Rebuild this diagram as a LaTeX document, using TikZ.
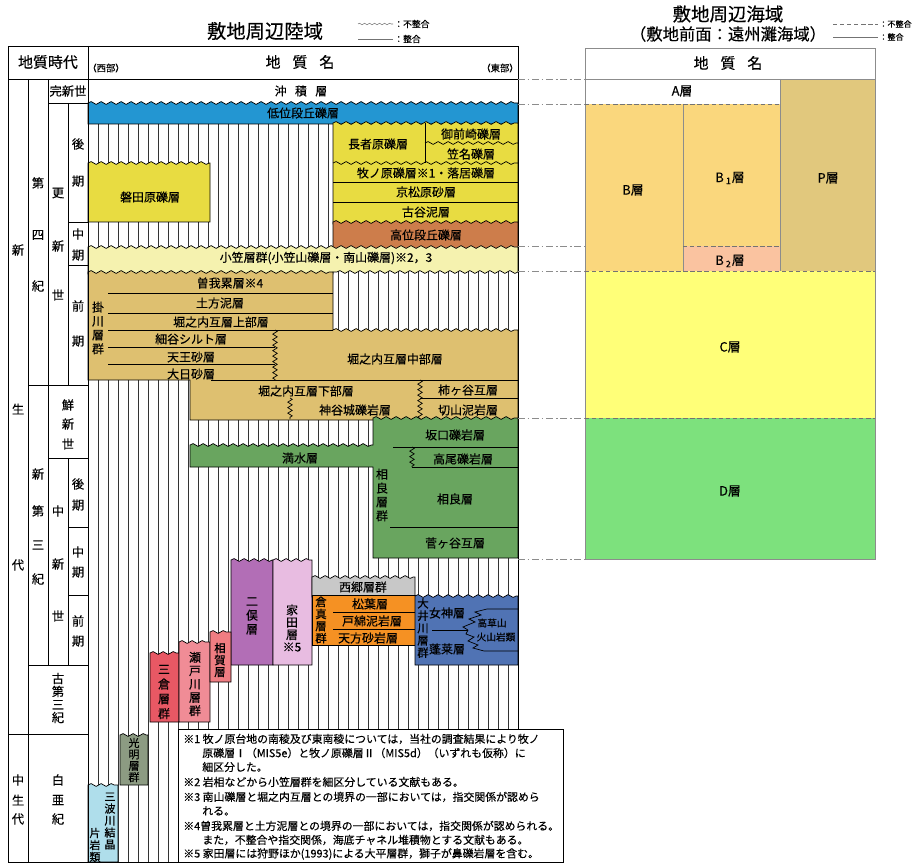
\documentclass[tikz,border=0pt]{standalone}
\usepackage{fontspec}
\setmainfont{Noto Sans CJK JP}[FakeBold=0.35]
\usetikzlibrary{decorations.pathmorphing}
\definecolor{teiiblue}{RGB}{35,150,210}
\definecolor{gravelyel}{RGB}{232,220,65}
\definecolor{kouibrown}{RGB}{205,125,75}
\definecolor{ogasayel}{RGB}{245,242,175}
\definecolor{kakegawatan}{RGB}{222,192,112}
\definecolor{sagaragreen}{RGB}{105,165,95}
\definecolor{futamatapur}{RGB}{178,110,182}
\definecolor{iedapink}{RGB}{232,188,225}
\definecolor{saigogray}{RGB}{200,200,200}
\definecolor{kuramiorange}{RGB}{245,145,35}
\definecolor{ooigawablue}{RGB}{80,115,180}
\definecolor{mikurared}{RGB}{232,88,100}
\definecolor{setogawapink}{RGB}{240,140,150}
\definecolor{aigared}{RGB}{240,125,130}
\definecolor{koumyougray}{RGB}{140,155,130}
\definecolor{sanbacyan}{RGB}{175,222,235}
\definecolor{seaB}{RGB}{250,215,125}
\definecolor{seaBtwo}{RGB}{250,195,160}
\definecolor{seaP}{RGB}{225,200,125}
\definecolor{seaC}{RGB}{255,255,120}
\definecolor{seaD}{RGB}{125,225,125}

\begin{document}
\begin{tikzpicture}[
    x=0.02cm, y=-0.02cm, line width=0.4pt,
    lbl/.style={inner sep=0pt, font=\fontsize{6.8}{8}\selectfont},
    age/.style={inner sep=0pt, font=\fontsize{7}{8}\selectfont},
    vlbl/.style={inner sep=0pt, align=center, font=\fontsize{6.8}{7.9}\selectfont},
    head/.style={inner sep=0pt, font=\fontsize{8.5}{10}\selectfont},
    note/.style={inner sep=0pt, anchor=west, font=\fontsize{6.2}{7}\selectfont},
    sea/.style={inner sep=0pt, font=\fontsize{7.3}{8.5}\selectfont},
    legtxt/.style={inner sep=0pt, anchor=west, font=\fontsize{5}{6}\selectfont},
    hatch/.style={line width=0.3pt, black!80},
    wv/.style={decoration={snake, amplitude=0.28mm, segment length=2mm}},
    wline/.style={wv, decorate},
    zg/.style={decorate, decoration={zigzag, amplitude=0.45mm, segment length=1.1mm}},
    seaedge/.style={draw=black!45, line width=0.4pt},
    udash/.style={black!55, dash pattern=on 2.5pt off 1.5pt, line width=0.4pt},
    corr/.style={black!45, dash pattern=on 4pt off 1.5pt on 1pt off 1.5pt, line width=0.4pt}
  ]
  \useasboundingbox (0,0) rectangle (914,865);

  % titles and legends
  \node[inner sep=0pt, font=\fontsize{11}{13}\selectfont] (landtitle) at (265,31) {敷地周辺陸域};
  \draw[wline, black!55, line width=0.3pt, decoration={amplitude=0.15mm, segment length=1mm}] (358,24) -- (393,24);
  \node[legtxt] (landlegu) at (394,24) {：不整合};
  \draw[black!55, line width=0.3pt] (358,39) -- (393,39);
  \node[legtxt] (landlegc) at (394,39) {：整合};
  \node[inner sep=0pt, font=\fontsize{10.5}{12}\selectfont] (seatitle) at (728,14) {敷地周辺海域};
  \node[inner sep=0pt, font=\fontsize{9.3}{11}\selectfont] (seasub) at (728,34) {（敷地前面：遠州灘海域）};
  \draw[udash] (833,24) -- (878,24);
  \node[legtxt, font=\fontsize{4.6}{5}\selectfont] (sealegu) at (879,24) {：不整合};
  \draw[black!55, line width=0.3pt] (833,37) -- (878,37);
  \node[legtxt, font=\fontsize{4.6}{5}\selectfont] (sealegc) at (879,37) {：整合};

  % gaps (hatched)
  \foreach \hx in {98,108,...,508} \draw[hatch] (\hx,123) -- (\hx,862);

  % quaternary
  \filldraw[fill=teiiblue] (88,124) -- (88,103) decorate[wv]{-- (518,103)} -- (518,124) -- cycle;
  \filldraw[fill=gravelyel] (333,224) -- (333,123) decorate[wv]{-- (518,123)} -- (518,224) -- cycle;
  \draw (425,123) -- (425,163);
  \draw[wline] (425,143) -- (518,143);
  \draw[wline] (333,163) -- (518,163);
  \draw (333,182) -- (518,182);
  \draw (333,202) -- (518,202);
  \filldraw[fill=kouibrown] (333,249) -- (333,222) decorate[wv]{-- (518,222)} -- (518,249) -- cycle;
  \filldraw[fill=gravelyel] (88,222) -- (88,163) decorate[wv]{-- (210,163)} -- (210,222) -- cycle;
  \filldraw[fill=ogasayel] (88,274) -- (88,247) decorate[wv]{-- (518,247)} -- (518,272) decorate[wv]{-- (333,272)} -- (333,274) -- cycle;

  % kakegawa group
  \filldraw[fill=kakegawatan] (88,380) -- (88,272) decorate[wv]{-- (333,272)} -- (333,330) decorate[wv]{-- (518,330)} -- (518,420) -- (190,420) -- (190,380) -- cycle;
  \draw (108,293) -- (333,293);
  \draw (108,313) -- (333,313);
  \draw (108,330) -- (333,330);
  \draw (108,347) -- (275,347);
  \draw (108,364) -- (275,364);
  \draw (211,380) -- (518,380);
  \draw (420,398) -- (518,398);
  \draw[zg] (275,330) -- (275,380);
  \draw[zg] (290,398) -- (290,419);
  \draw[zg] (420,380) -- (420,419);

  % sagara group
  \filldraw[fill=sagaragreen] (190,467) -- (190,445) decorate[wv]{-- (373,445)} -- (373,418) decorate[wv]{-- (518,418)} -- (518,558) -- (373,558) -- (373,467) -- cycle;
  \draw (393,447) -- (518,447);
  \draw (412,467) -- (518,467);
  \draw[zg] (412,447) -- (412,467);
  \draw (390,527) -- (518,527);

  % miocene and older
  \filldraw[fill=futamatapur] (231,665) -- (231,560) decorate[wv]{-- (273,560)} -- (273,665) -- cycle;
  \filldraw[fill=iedapink] (273,665) -- (273,560) decorate[wv]{-- (312,560)} -- (312,665) -- cycle;
  \filldraw[fill=saigogray] (312,597) -- (312,577) decorate[wv]{-- (415,577)} -- (415,597) -- cycle;
  \filldraw[fill=kuramiorange] (312,595) rectangle (415,645);
  \draw (333,612) -- (415,612);
  \draw (333,629) -- (415,629);
  \filldraw[fill=ooigawablue] (415,665) -- (415,596) decorate[wv]{-- (518,596)} -- (518,665) -- cycle;
  \draw (432,630) -- (468,630);
  \draw (518,609) -- (487,609) -- (475,612) -- (481,615) -- (469,619) -- (475,622) -- (463,627) -- (468,630);
  \draw (468,630) -- (466,634) -- (474,637) -- (468,641) -- (478,645) -- (473,648) -- (484,651) -- (518,651);
  \filldraw[fill=mikurared] (150,722) -- (150,653) decorate[wv]{-- (179,653)} -- (179,722) -- cycle;
  \filldraw[fill=setogawapink] (179,722) -- (179,642) decorate[wv]{-- (210,642)} -- (210,722) -- cycle;
  \filldraw[fill=aigared] (210,682) -- (210,632) decorate[wv]{-- (231,632)} -- (231,682) -- cycle;
  \filldraw[fill=koumyougray] (120,785) -- (120,735) decorate[wv]{-- (148,735)} -- (148,785) -- cycle;
  \filldraw[fill=sanbacyan] (88,862) -- (88,785) decorate[wv]{-- (118,785)} -- (118,862) -- cycle;

  % frame and age columns
  \draw (8,46) rectangle (518,862);
  \draw (8,79) -- (518,79);
  \draw (88,46) -- (88,862);
  \draw (28,79) -- (28,862);
  \draw (48,79) -- (48,665);
  \draw (68,103) -- (68,385);
  \draw (68,458) -- (68,665);
  \draw (48,103) -- (88,103);
  \draw (68,222) -- (88,222);
  \draw (68,265) -- (88,265);
  \draw (28,385) -- (88,385);
  \draw (48,458) -- (88,458);
  \draw (68,527) -- (88,527);
  \draw (68,595) -- (88,595);
  \draw (28,665) -- (88,665);
  \draw (8,734) -- (88,734);

  % notes
  \filldraw[fill=white] (178,729) rectangle (563,862);
  \node[note] (note1a) at (183,739) {※1 牧ノ原台地の南稜及び東南稜については，当社の調査結果により牧ノ};
  \node[note] (note1b) at (202,753) {原礫層Ⅰ（MIS5e）と牧ノ原礫層Ⅱ（MIS5d）（いずれも仮称）に};
  \node[note] (note1c) at (202,767) {細区分した。};
  \node[note] (note2) at (183,782) {※2 岩相などから小笠層群を細区分している文献もある。};
  \node[note] (note3a) at (183,797) {※3 南山礫層と堀之内互層との境界の一部においては，指交関係が認めら};
  \node[note] (note3b) at (202,811) {れる。};
  \node[note] (note4a) at (183,826) {※4曽我累層と土方泥層との境界の一部においては，指交関係が認められる。};
  \node[note] (note4b) at (202,840) {また，不整合や指交関係，海底チャネル堆積物とする文献もある。};
  \node[note] (note5) at (183,854) {※5 家田層には狩野ほか(1993)による大平層群，獅子が鼻礫岩層を含む。};

  % headers
  \node[head] (agehead) at (48,62) {地質時代};
  \node[head] (namehead) at (300,62) {地\hspace{0.8em}質\hspace{0.8em}名};
  \node[inner sep=0pt, font=\fontsize{5.3}{6}\selectfont] (west) at (106,68) {（西部）};
  \node[inner sep=0pt, font=\fontsize{5.3}{6}\selectfont] (east) at (500,68) {（東部）};

  % age labels
  \node[age] (shinE1) at (18,250) {新};
  \node[age] (shinE2) at (18,409) {生};
  \node[age] (shinE3) at (18,565) {代};
  \node[age] (daiyon1) at (38,183) {第};
  \node[age] (daiyon2) at (38,235) {四};
  \node[age] (daiyon3) at (38,286) {紀};
  \node[age] (kanshin) at (68,91) {完新世};
  \node[age] (koshin1) at (58,193) {更};
  \node[age] (koshin2) at (58,246) {新};
  \node[age] (koshin3) at (58,295) {世};
  \node[age] (plLate1) at (78,144) {後};
  \node[age] (plLate2) at (78,181) {期};
  \node[age] (plMid1) at (78,234) {中};
  \node[age] (plMid2) at (78,255) {期};
  \node[age] (plEarly1) at (78,306) {前};
  \node[age] (plEarly2) at (78,341) {期};
  \node[age] (senshin1) at (68,405) {鮮};
  \node[age] (senshin2) at (68,424) {新};
  \node[age] (senshin3) at (68,444) {世};
  \node[age] (neo1) at (38,474) {新};
  \node[age] (neo2) at (38,511) {第};
  \node[age] (neo3) at (38,545) {三};
  \node[age] (neo4) at (38,579) {紀};
  \node[age] (chushin1) at (58,511) {中};
  \node[age] (chushin2) at (58,564) {新};
  \node[age] (chushin3) at (58,616) {世};
  \node[age] (miLate1) at (78,484) {後};
  \node[age] (miLate2) at (78,505) {期};
  \node[age] (miMid1) at (78,552) {中};
  \node[age] (miMid2) at (78,572) {期};
  \node[age] (miEarly1) at (78,621) {前};
  \node[age] (miEarly2) at (78,641) {期};
  \node[vlbl, font=\fontsize{7}{7.4}\selectfont] (paleo) at (58,698) {古\\第\\三\\紀};
  \node[age] (meso1) at (18,780) {中};
  \node[age] (meso2) at (18,800) {生};
  \node[age] (meso3) at (18,819) {代};
  \node[age] (creta1) at (58,780) {白};
  \node[age] (creta2) at (58,800) {亜};
  \node[age] (creta3) at (58,819) {紀};

  % formation labels
  \node[lbl] (chuseki) at (301,91) {沖\hspace{0.7em}積\hspace{0.7em}層};
  \node[lbl] (teii) at (303,113) {低位段丘礫層};
  \node[lbl] (iwata) at (150,197) {磐田原礫層};
  \node[lbl] (chojahara) at (378,144) {長者原礫層};
  \node[lbl] (omaezaki) at (471,134) {御前崎礫層};
  \node[lbl] (kasana) at (471,154) {笠名礫層};
  \node[lbl] (makinohara) at (426,173) {牧ノ原礫層※1・落居礫層};
  \node[lbl] (kyomatsu) at (426,192) {京松原砂層};
  \node[lbl] (furuya) at (426,212) {古谷泥層};
  \node[lbl] (kouidan) at (426,235) {高位段丘礫層};
  \node[lbl] (ogasaG) at (326,258) {小笠層群(小笠山礫層・南山礫層)※2，3};
  \node[lbl] (soga) at (230,283) {曽我累層※4};
  \node[lbl] (hijikata) at (220,303) {土方泥層};
  \node[lbl] (horiU) at (221,322) {堀之内互層上部層};
  \node[lbl] (hosoya) at (191,339) {細谷シルト層};
  \node[lbl] (tenno) at (191,357) {天王砂層};
  \node[lbl] (dainichi) at (191,374) {大日砂層};
  \node[lbl] (horiM) at (395,359) {堀之内互層中部層};
  \node[lbl] (horiL) at (306,391) {堀之内互層下部層};
  \node[lbl] (kakigaya) at (468,390) {柿ヶ谷互層};
  \node[lbl] (kamiyajo) at (355,410) {神谷城礫岩層};
  \node[lbl] (kiriyama) at (468,410) {切山泥岩層};
  \node[vlbl] (kakegawaG) at (98,328) {掛\\川\\層\\群};
  \node[lbl] (sakaguchi) at (455,435) {坂口礫岩層};
  \node[lbl] (takao) at (463,459) {高尾礫岩層};
  \node[lbl] (mizutari) at (300,458) {満水層};
  \node[vlbl] (sagaraG) at (382,495) {相\\良\\層\\群};
  \node[lbl] (sagaraF) at (455,499) {相良層};
  \node[lbl] (sugegaya) at (455,543) {菅ヶ谷互層};
  \node[vlbl] (futamataF) at (252,616) {二\\俣\\層};
  \node[vlbl, font=\fontsize{6.8}{7}\selectfont] (iedaF) at (292,628) {家\\田\\層\\※5};
  \node[lbl] (saigoG) at (363,587) {西郷層群};
  \node[vlbl, font=\fontsize{6.5}{6.9}\selectfont] (kuramiG) at (321,620) {倉\\真\\層\\群};
  \node[lbl] (matsuba) at (370,604) {松葉層};
  \node[lbl] (towata) at (372,621) {戸綿泥岩層};
  \node[lbl] (amakata) at (368,638) {天方砂岩層};
  \node[vlbl, font=\fontsize{6.5}{7}\selectfont] (ooigawaG) at (423,628) {大\\井\\川\\層\\群};
  \node[lbl] (megami) at (447,613) {女神層};
  \node[lbl] (horai) at (447,649) {蓬莱層};
  \node[inner sep=0pt, font=\fontsize{5.5}{6}\selectfont] (takakusa) at (492,623) {高草山};
  \node[inner sep=0pt, font=\fontsize{5.5}{6}\selectfont] (kazan) at (496,637) {火山岩類};
  \node[vlbl, font=\fontsize{6.8}{8.4}\selectfont] (mikuraG) at (164,692) {三\\倉\\層\\群};
  \node[vlbl, font=\fontsize{6.8}{7.6}\selectfont] (setogawaG) at (195,684) {瀬\\戸\\川\\層\\群};
  \node[vlbl, font=\fontsize{6.5}{6.8}\selectfont] (aigaF) at (220,660) {相\\賀\\層};
  \node[vlbl, font=\fontsize{6.3}{6.5}\selectfont] (koumyouG) at (134,760) {光\\明\\層\\群};
  \node[vlbl, font=\fontsize{6.3}{6.8}\selectfont] (sanbaR) at (110,821) {三\\波\\川\\結\\晶};
  \node[vlbl, font=\fontsize{6.3}{6.8}\selectfont] (sanbaL) at (95,845) {片\\岩\\類};

  % sea area
  \fill[seaP] (780,79) rectangle (875,271);
  \fill[seaB] (585,104) rectangle (780,271);
  \fill[seaBtwo] (683,246) rectangle (780,271);
  \fill[seaC] (585,271) rectangle (875,418);
  \fill[seaD] (585,418) rectangle (875,559);
  \draw[seaedge] (585,48) rectangle (875,559);
  \draw[seaedge] (585,79) -- (875,79);
  \draw[seaedge] (683,104) -- (683,271);
  \draw[seaedge] (780,79) -- (780,271);
  \draw[udash] (585,104) -- (780,104);
  \draw[udash] (683,246) -- (780,246);
  \draw[udash] (585,271) -- (875,271);
  \draw[udash] (585,418) -- (875,418);
  \node[head] (seahead) at (728,63) {地\hspace{0.8em}質\hspace{0.8em}名};
  \node[sea] (seaAL) at (682,91) {A層};
  \node[sea] (seaBL) at (633,190) {B層};
  \node[sea] (seaB1L) at (730,178) {B\,\textsubscript{1}層};
  \node[sea] (seaB2L) at (730,261) {B\,\textsubscript{2}層};
  \node[sea] (seaPL) at (828,178) {P層};
  \node[sea] (seaCL) at (730,347) {C層};
  \node[sea] (seaDL) at (730,491) {D層};

  % correlation between land and sea
  \draw[corr] (518,79) -- (585,79);
  \draw[corr] (518,104) -- (585,104);
  \draw[corr] (518,246) -- (585,246);
  \draw[corr] (518,271) -- (585,271);
  \draw[corr] (518,418) -- (585,418);
  \draw[corr] (518,559) -- (585,559);
\end{tikzpicture}
\end{document}
